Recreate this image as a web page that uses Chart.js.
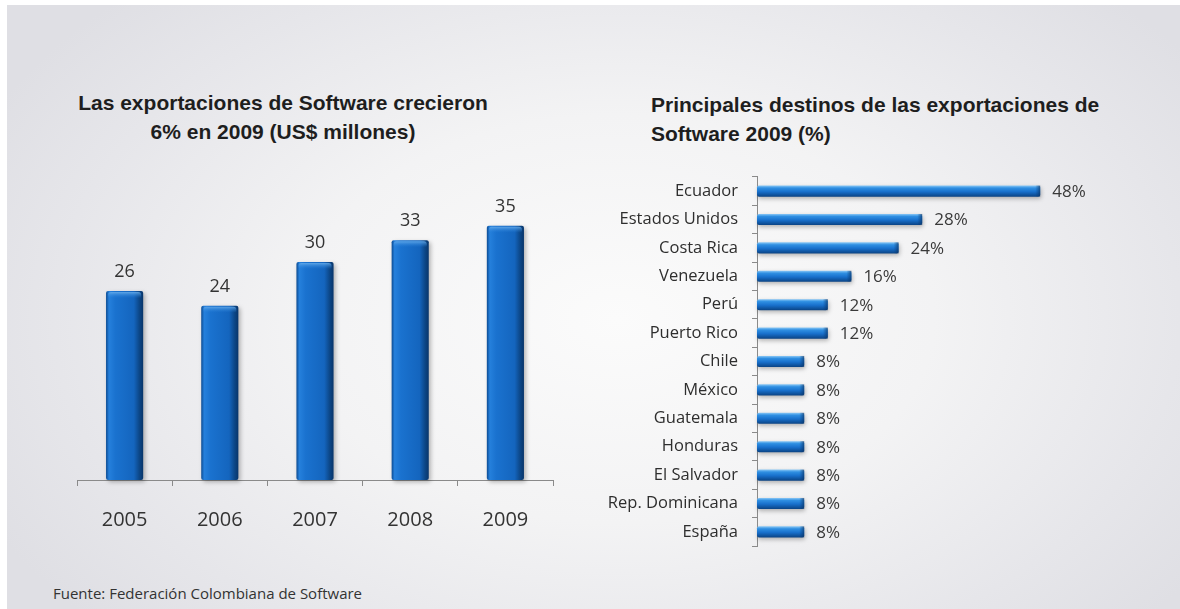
<!DOCTYPE html>
<html lang="es">
<head>
    <meta charset="UTF-8">
    <title>Exportaciones de Software</title>
    <script src="https://cdn.jsdelivr.net/npm/chart.js@4.4.1/dist/chart.umd.min.js"></script>
    <style>
        html, body {
            margin: 0;
            padding: 0;
            background: #ffffff;
            width: 1180px;
            height: 609px;
            overflow: hidden;
        }

        .panel {
            position: absolute;
            left: 7px;
            top: 5px;
            right: 0;
            bottom: 0;
            background: radial-gradient(ellipse 60% 75% at 52% 52%, #fbfbfb 0%, #f3f3f4 45%, #e6e6ea 80%, #dfdfe4 100%);
        }

        .title {
            position: absolute;
            font-family: "Liberation Sans", Arial, sans-serif;
            font-weight: bold;
            font-size: 21px;
            line-height: 29px;
            color: #1e1e1e;
        }

        #leftTitle {
            left: 33px;
            width: 500px;
            top: 88px;
            text-align: center;
        }

        #rightTitle {
            left: 651px;
            top: 90px;
            text-align: left;
        }

        .chart-box {
            position: absolute;
        }

        #footer {
            position: absolute;
            left: 53px;
            top: 583px;
            font-family: "Open Sans", sans-serif;
            font-size: 15px;
            color: #333;
        }
    </style>
</head>
<body>
    <div class="panel"></div>

    <div class="title" id="leftTitle">Las exportaciones de Software crecieron<br>6% en 2009 (US$ millones)</div>
    <div class="title" id="rightTitle">Principales destinos de las exportaciones de<br>Software 2009 (%)</div>

    <div class="chart-box" style="left:40px; top:170px; width:540px; height:384px;">
        <canvas id="exportsChart"></canvas>
    </div>
    <div class="chart-box" style="left:560px; top:153px; width:580px; height:417px;">
        <canvas id="destinationsChart"></canvas>
    </div>

    <div id="footer">Fuente: Federación Colombiana de Software</div>

    <script>
        // Exportaciones anuales (US$ millones)
        const years = ['2005', '2006', '2007', '2008', '2009'];
        const exportsValues = [26, 24, 30, 33, 35];

        // Destinos 2009 (%)
        const countries = ['Ecuador', 'Estados Unidos', 'Costa Rica', 'Venezuela', 'Perú', 'Puerto Rico',
            'Chile', 'México', 'Guatemala', 'Honduras', 'El Salvador', 'Rep. Dominicana', 'España'];
        const countryShares = [48, 28, 24, 16, 12, 12, 8, 8, 8, 8, 8, 8, 8];

        Chart.defaults.font.family = '"Open Sans", sans-serif';
        Chart.defaults.animation = false;

        function roundRect(ctx, x, y, w, h, r) {
            ctx.beginPath();
            ctx.moveTo(x + r, y);
            ctx.lineTo(x + w - r, y);
            ctx.quadraticCurveTo(x + w, y, x + w, y + r);
            ctx.lineTo(x + w, y + h - r);
            ctx.quadraticCurveTo(x + w, y + h, x + w - r, y + h);
            ctx.lineTo(x + r, y + h);
            ctx.quadraticCurveTo(x, y + h, x, y + h - r);
            ctx.lineTo(x, y + r);
            ctx.quadraticCurveTo(x, y, x + r, y);
            ctx.closePath();
        }

        // paints the glossy blue bars over the positions chart.js computed
        const glossyBars = {
            id: 'glossyBars',
            afterDatasetsDraw(chart) {
                const ctx = chart.ctx;
                const horizontal = chart.options.indexAxis === 'y';
                const meta = chart.getDatasetMeta(0);
                ctx.save();
                meta.data.forEach(bar => {
                    const p = bar.getProps(['x', 'y', 'base', 'width', 'height'], true);
                    let x, y, w, h, g;
                    if (horizontal) {
                        x = Math.min(p.base, p.x);
                        w = Math.abs(p.x - p.base);
                        y = p.y - p.height / 2;
                        h = p.height;
                        g = ctx.createLinearGradient(0, y, 0, y + h);
                        g.addColorStop(0, '#8ac8f6');
                        g.addColorStop(0.22, '#2f8fe2');
                        g.addColorStop(0.55, '#1870cc');
                        g.addColorStop(1, '#0a4384');
                    } else {
                        x = p.x - p.width / 2;
                        w = p.width;
                        y = Math.min(p.y, p.base);
                        h = Math.abs(p.base - p.y);
                        g = ctx.createLinearGradient(x, 0, x + w, 0);
                        g.addColorStop(0, '#0c4b92');
                        g.addColorStop(0.08, '#2580dc');
                        g.addColorStop(0.25, '#1a72cf');
                        g.addColorStop(0.75, '#1465be');
                        g.addColorStop(0.9, '#0c4686');
                        g.addColorStop(1, '#08356a');
                    }
                    ctx.shadowColor = 'rgba(0,0,0,0.28)';
                    ctx.shadowBlur = 4;
                    ctx.shadowOffsetX = horizontal ? 1 : 2;
                    ctx.shadowOffsetY = 2;
                    ctx.fillStyle = g;
                    roundRect(ctx, x, y, w, h, 2);
                    ctx.fill();
                    ctx.shadowColor = 'transparent';

                    if (horizontal) {
                        // darker rounded end cap
                        const cap = ctx.createLinearGradient(x + w - 5, 0, x + w, 0);
                        cap.addColorStop(0, 'rgba(10,60,120,0)');
                        cap.addColorStop(1, 'rgba(8,50,100,0.7)');
                        ctx.fillStyle = cap;
                        ctx.fillRect(x + w - 5, y, 5, h);
                    } else {
                        // light top cap
                        const cap = ctx.createLinearGradient(0, y, 0, y + 7);
                        cap.addColorStop(0, 'rgba(120,185,240,0.95)');
                        cap.addColorStop(1, 'rgba(40,130,220,0)');
                        ctx.fillStyle = cap;
                        roundRect(ctx, x + 2, y + 1, w - 4, 7, 3);
                        ctx.fill();
                    }
                });
                ctx.restore();
            }
        };

        // value labels next to each bar
        const valueLabels = {
            id: 'valueLabels',
            afterDatasetsDraw(chart, args, opts) {
                const ctx = chart.ctx;
                const horizontal = chart.options.indexAxis === 'y';
                const ds = chart.data.datasets[0];
                const meta = chart.getDatasetMeta(0);
                ctx.save();
                ctx.font = opts.font;
                ctx.fillStyle = opts.color;
                meta.data.forEach((bar, i) => {
                    const text = ds.data[i] + (opts.suffix || '');
                    if (horizontal) {
                        ctx.textAlign = 'left';
                        ctx.textBaseline = 'middle';
                        ctx.fillText(text, bar.x + opts.offset, bar.y + 1);
                    } else {
                        ctx.textAlign = 'center';
                        ctx.textBaseline = 'middle';
                        ctx.fillText(text, bar.x, bar.y - opts.offset);
                    }
                });
                ctx.restore();
            }
        };

        new Chart(document.getElementById('exportsChart'), {
            type: 'bar',
            data: {
                labels: years,
                datasets: [{
                    data: exportsValues,
                    backgroundColor: 'rgba(0,0,0,0)',
                    categoryPercentage: 1,
                    barPercentage: 0.39
                }]
            },
            options: {
                responsive: true,
                maintainAspectRatio: false,
                layout: { padding: { top: 19.4, left: 37, right: 27, bottom: 0 } },
                plugins: {
                    legend: { display: false },
                    tooltip: { enabled: false },
                    valueLabels: { font: '18px "Open Sans", sans-serif', color: '#333', offset: 19 }
                },
                scales: {
                    x: {
                        grid: {
                            offset: true,
                            drawOnChartArea: false,
                            drawTicks: true,
                            tickLength: 6,
                            color: '#8a8a8a'
                        },
                        border: { display: true, color: '#8a8a8a', width: 1 },
                        ticks: { color: '#333', font: { size: 20 }, padding: 22 }
                    },
                    y: {
                        display: false,
                        min: 0,
                        max: 40
                    }
                }
            },
            plugins: [glossyBars, valueLabels]
        });

        new Chart(document.getElementById('destinationsChart'), {
            type: 'bar',
            data: {
                labels: countries,
                datasets: [{
                    data: countryShares,
                    backgroundColor: 'rgba(0,0,0,0)',
                    categoryPercentage: 1,
                    barPercentage: 0.39
                }]
            },
            options: {
                indexAxis: 'y',
                responsive: true,
                maintainAspectRatio: false,
                layout: { padding: { top: 7.5, left: 0, right: 29, bottom: 5.5 } },
                plugins: {
                    legend: { display: false },
                    tooltip: { enabled: false },
                    valueLabels: { font: '17px "Open Sans", sans-serif', color: '#3a3a3a', offset: 12, suffix: '%' }
                },
                scales: {
                    x: {
                        display: false,
                        min: 0,
                        max: 60
                    },
                    y: {
                        afterFit(scale) { scale.width = 197; },
                        grid: {
                            offset: true,
                            drawOnChartArea: false,
                            drawTicks: true,
                            tickLength: 5,
                            color: '#8a8a8a'
                        },
                        border: { display: true, color: '#8a8a8a', width: 1 },
                        ticks: { color: '#2e2e2e', font: { size: 16.5 }, padding: 14 }
                    }
                }
            },
            plugins: [glossyBars, valueLabels]
        });
    </script>
</body>
</html>
